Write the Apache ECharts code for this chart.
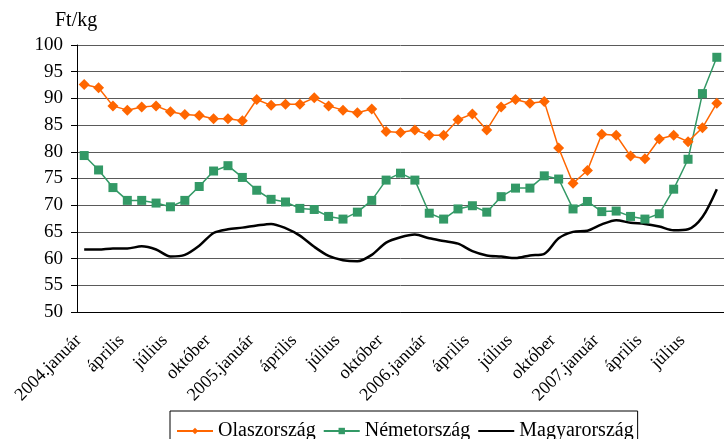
<!DOCTYPE html>
<html>
<head>
<meta charset="utf-8">
<script src="https://cdn.jsdelivr.net/npm/echarts@6/dist/echarts.min.js"></script>
<style>
  html, body { margin: 0; padding: 0; background: #fff; }
  #chart { width: 724px; height: 439px; }
</style>
</head>
<body>
<div id="chart"></div>
<script>
// honapok, 2004.január - 2007.szeptember
const months = ['január', 'február', 'március', 'április', 'május', 'június',
  'július', 'augusztus', 'szeptember', 'október', 'november', 'december'];
const years = [2004, 2005, 2006, 2007];
const monthCount = 45;

const categories = [];
for (let i = 0; i < monthCount; i++) {
  const m = i % 12;
  const y = years[Math.floor(i / 12)];
  categories.push(m === 0 ? y + '.' + months[m] : months[m]);
}

const olasz = [92.6, 92.0, 88.6, 87.8, 88.4, 88.6, 87.5, 87.0, 86.8, 86.2, 86.2, 85.8,
  89.8, 88.7, 88.9, 88.9, 90.1, 88.6, 87.8, 87.3, 88.0, 83.8, 83.6, 84.1,
  83.1, 83.1, 86.0, 87.1, 84.1, 88.4, 89.8, 89.1, 89.4, 80.7, 74.1, 76.5,
  83.3, 83.1, 79.2, 78.7, 82.4, 83.1, 81.9, 84.5, 89.1];

const nemet = [79.3, 76.6, 73.3, 70.9, 70.9, 70.4, 69.7, 70.9, 73.5, 76.4, 77.4, 75.2,
  72.8, 71.1, 70.6, 69.4, 69.2, 67.9, 67.4, 68.7, 70.9, 74.7, 76.0, 74.7,
  68.5, 67.4, 69.3, 69.9, 68.7, 71.6, 73.2, 73.2, 75.5, 74.9, 69.3, 70.7,
  68.8, 68.9, 67.9, 67.4, 68.4, 73.0, 78.6, 90.9, 97.7];

const magyar = [61.7, 61.7, 61.9, 61.9, 62.3, 61.7, 60.4, 60.7, 62.4, 64.8, 65.5, 65.8,
  66.2, 66.5, 65.7, 64.3, 62.2, 60.5, 59.7, 59.5, 60.7, 63.0, 64.0, 64.5,
  63.8, 63.3, 62.8, 61.4, 60.6, 60.4, 60.1, 60.6, 60.9, 63.8, 65.0, 65.2,
  66.4, 67.2, 66.7, 66.5, 66.0, 65.3, 65.5, 67.8, 73.0];

const font = '"Liberation Serif", "Times New Roman", serif';

const chart = echarts.init(document.getElementById('chart'));
chart.setOption({
  animation: false,
  title: {
    text: 'Ft/kg',
    left: 50,
    top: 6,
    textStyle: { fontFamily: font, fontSize: 20, fontWeight: 'normal', color: '#000' }
  },
  grid: { left: 77, top: 45, right: -4, bottom: 127 },
  legend: {
    left: 170,
    top: 411,
    padding: [10, 4, 20, 6],
    borderColor: '#000',
    borderWidth: 1,
    itemWidth: 36,
    itemHeight: 8,
    itemGap: 7,
    textStyle: { fontFamily: font, fontSize: 20, color: '#000' },
    data: [
      { name: 'Olaszország' },
      { name: 'Németország' },
      { name: 'Magyarország', itemStyle: { opacity: 0 } }
    ]
  },
  xAxis: {
    type: 'category',
    data: categories,
    boundaryGap: true,
    axisLine: { lineStyle: { color: '#000', width: 1 } },
    axisTick: { interval: 0, length: 5, lineStyle: { color: '#000' } },
    axisLabel: {
      interval: 2,
      rotate: 45,
      margin: 20,
      padding: [0, 8, 0, 0],
      fontFamily: font,
      fontSize: 18,
      color: '#000'
    },
    splitLine: { show: false }
  },
  yAxis: {
    type: 'value',
    min: 50,
    max: 100,
    interval: 5,
    axisLine: { show: true, lineStyle: { color: '#000', width: 1 } },
    axisTick: { show: true, length: 6, lineStyle: { color: '#000' } },
    axisLabel: { margin: 14, fontFamily: font, fontSize: 19, color: '#000' },
    splitLine: { lineStyle: { color: '#5a5a5a', width: 1 } }
  },
  series: [
    {
      name: 'Olaszország',
      type: 'line',
      data: olasz,
      symbol: 'diamond',
      symbolSize: 11,
      showAllSymbol: true,
      itemStyle: { color: '#ff6600' },
      lineStyle: { color: '#ff6600', width: 1.5 },
      z: 3
    },
    {
      name: 'Németország',
      type: 'line',
      data: nemet,
      symbol: 'rect',
      symbolSize: 9,
      showAllSymbol: true,
      itemStyle: { color: '#339966' },
      lineStyle: { color: '#339966', width: 1.5 },
      z: 2
    },
    {
      name: 'Magyarország',
      type: 'line',
      data: magyar,
      symbol: 'none',
      smooth: 0.3,
      itemStyle: { color: '#000' },
      lineStyle: { color: '#000', width: 2.5 },
      z: 1
    }
  ]
});
</script>
</body>
</html>
